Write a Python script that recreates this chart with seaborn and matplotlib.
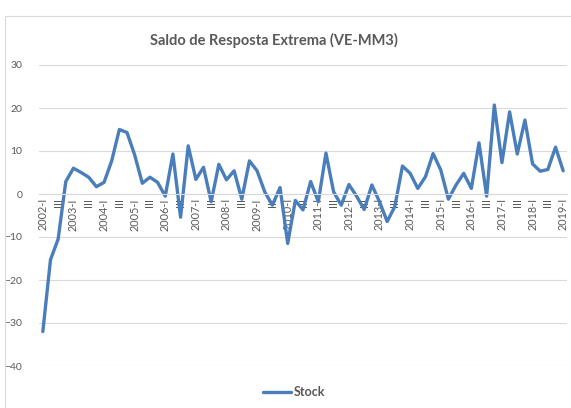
import matplotlib
matplotlib.use("Agg")
import matplotlib.pyplot as plt
from matplotlib.patches import Rectangle
import seaborn as sns

# quarterly balance, 2002-I .. 2019-I
years = list(range(2002, 2020))
quarters = ["I", "II", "III", "IV"]
stock = [
    -32.0, -15.3, -10.5, 2.9,
    6.0, 5.0, 3.9, 1.7,
    2.7, 7.7, 15.0, 14.3,
    9.1, 2.5, 3.9, 2.7,
    -0.5, 9.3, -5.4, 11.2,
    3.4, 6.2, -1.8, 6.9,
    3.3, 5.4, -1.2, 7.7,
    5.4, 0.5, -2.6, 1.5,
    -11.5, -1.5, -3.7, 2.9,
    -1.8, 9.5, 0.5, -2.6,
    2.2, -0.5, -3.6, 2.1,
    -1.8, -6.4, -2.9, 6.5,
    4.8, 1.3, 4.0, 9.4,
    5.6, -1.2, 2.1, 4.8,
    1.3, 11.9, -0.5, 20.7,
    7.3, 19.1, 9.3, 17.2,
    7.0, 5.3, 5.7, 10.9,
    5.4,
]
periods = [f"{y}-{q}" for y in years for q in quarters][:len(stock)]
tick_labels = [p if p.endswith("-I") else p.split("-")[1] for p in periods]

sns.set_style("white")
plt.rcParams["font.family"] = ["Lato", "DejaVu Sans"]

grey = "#595959"
grid_c = "#d9d9d9"
blue = "#4a7ebb"

fig = plt.figure(figsize=(5.71, 4.08), dpi=100)
ax = fig.add_axes([39 / 571, 1 - 366 / 408, 528 / 571, 301 / 408])

idx = list(range(len(stock)))
sns.lineplot(x=idx, y=stock, ax=ax, color=blue, linewidth=2.4, label="Stock", legend=False)

ax.set_xlim(-0.5, len(stock) - 0.5)
ax.set_ylim(-40, 30)
ax.set_yticks(range(-40, 31, 10))
ax.yaxis.grid(True, color=grid_c, linewidth=0.8)
ax.xaxis.grid(False)
ax.set_axisbelow(True)

ax.set_xticks(idx[::2])
ax.set_xticklabels(tick_labels[::2])
ax.tick_params(axis="x", length=0, pad=3, labelsize=7.8, labelcolor=grey, labelrotation=90)
ax.tick_params(axis="y", length=0, pad=12, labelsize=7.5, labelcolor=grey)
for t in ax.get_xticklabels():
    t.set_rotation(90)
    t.set_ha("center")
    t.set_va("top")

for s in ["top", "right", "left"]:
    ax.spines[s].set_visible(False)
ax.spines["bottom"].set_position(("data", 0))
ax.spines["bottom"].set_color(grid_c)
ax.spines["bottom"].set_linewidth(0.8)

fig.text(274 / 571, 1 - 40 / 408, "Saldo de Resposta Extrema (VE-MM3)",
         ha="center", va="center", fontsize=10.5, fontweight="bold", color=grey)

handles, labels = ax.get_legend_handles_labels()
leg = fig.legend(handles, labels, loc="center", bbox_to_anchor=(0.515, 1 - 392 / 408),
                 frameon=False, handlelength=2.2, handletextpad=0.2,
                 prop={"weight": "bold", "size": 9})
for t in leg.get_texts():
    t.set_color(grey)

fig.patches.append(Rectangle((5 / 571, -0.05), 1.1, 1 - 16 / 408 + 0.05,
                             transform=fig.transFigure, fill=False,
                             edgecolor=grid_c, linewidth=0.8))

fig.savefig("out.png", dpi=100)
